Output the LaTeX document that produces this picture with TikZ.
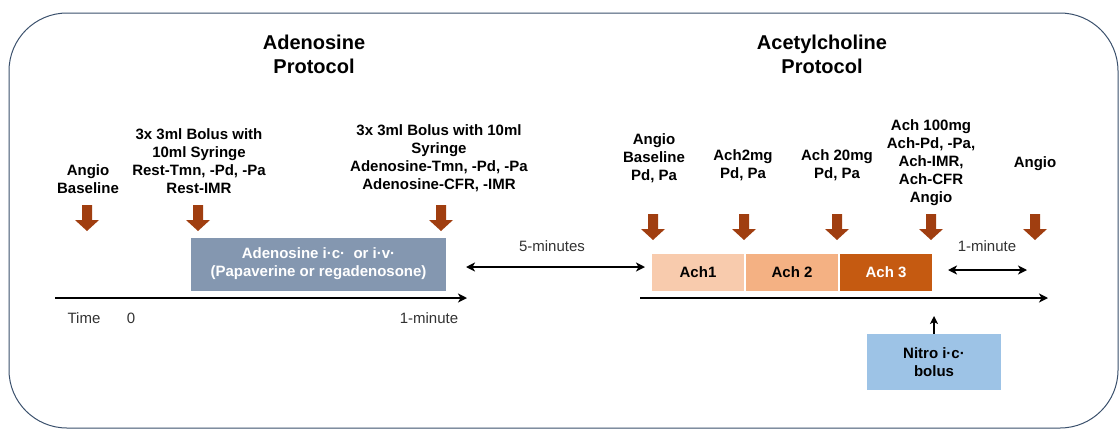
\documentclass[tikz,border=0pt]{standalone}
\usepackage{fontspec}
\setmainfont{Liberation Sans}
\usetikzlibrary{arrows.meta,positioning,calc}
\definecolor{slate}{RGB}{58,80,108}
\definecolor{rust}{RGB}{160,62,16}
\definecolor{steel}{RGB}{132,151,176}
\definecolor{peach}{RGB}{248,203,173}
\definecolor{apricot}{RGB}{244,177,131}
\definecolor{burnt}{RGB}{197,90,17}
\definecolor{sky}{RGB}{157,195,230}
\definecolor{ink}{RGB}{50,50,50}
\newcommand{\lblfont}{\fontsize{15}{18}\selectfont}
\newcommand{\ttlfont}{\fontsize{20}{24}\selectfont}
\tikzset{
  >={Stealth[length=9pt,width=9pt,inset=2.5pt]},
  frame/.style={draw=slate,line width=1pt,rounded corners=58pt},
  title/.style={font=\ttlfont\bfseries,align=center,inner sep=0pt},
  lab/.style={font=\lblfont\bfseries,align=center,inner sep=0pt},
  plain/.style={font=\lblfont,text=ink,inner sep=0pt},
  timeline/.style={->,line width=2.6pt},
  span/.style={<->,line width=2.2pt},
  phase/.style={fill=#1,draw=white,line width=1pt,minimum width=93pt,
    minimum height=38pt,inner sep=0pt,font=\lblfont\bfseries},
  drug/.style={fill=#1,inner sep=0pt,align=center,font=\lblfont\bfseries},
  % brown block arrow
  pics/drop/.style={code={
    \fill[rust] (-5,0) -- (5,0) -- (5,15) -- (12,15) -- (0,26) -- (-12,15) -- (-5,15) -- cycle;
  }},
}

\begin{document}
\begin{tikzpicture}[x=1pt,y=-1pt]
  \useasboundingbox (0,0) rectangle (1119,429);
  \draw[frame] (9,13) rectangle (1118,428);

  % titles
  \node[title] (adoT) at (314,54) {Adenosine\\Protocol};
  \node[title] (achT) at (822,54) {Acetylcholine\\Protocol};

  % adenosine side
  \node[lab] (base) at (88,179) {Angio\\Baseline};
  \node[lab] (rest) at (199,161) {3x 3ml Bolus with\\10ml Syringe\\Rest-Tmn, -Pd, -Pa\\Rest-IMR};
  \node[lab] (hyp) at (439,158) {3x 3ml Bolus with 10ml\\Syringe\\Adenosine-Tmn, -Pd, -Pa\\Adenosine-CFR, -IMR};
  \foreach \x in {87,198,441} \pic at (\x,205) {drop};

  \node[drug=steel,text=white,minimum width=255pt,minimum height=53pt] (ado) at (318.5,264)
    {Adenosine i·c·\ \ or i·v·\\(Papaverine or regadenosone)};

  \coordinate (t0) at (55,298);
  \coordinate (t1) at (467,298);
  \draw[timeline] (t0) -- (t1);
  \node[plain] (time) at (84,318) {Time};
  \node[plain] (zero) at (131,318) {0};
  \node[plain] (oneA) at (429,318) {1-minute};

  % gap
  \coordinate (gapL) at (466,267);
  \coordinate (gapR) at (645,267);
  \draw[span] (gapL) -- (gapR);
  \node[plain] (five) at (552,246) {5-minutes};

  % acetylcholine side
  \node[lab] (abase) at (654,158) {Angio\\Baseline\\Pd, Pa};
  \node[lab] (a2) at (743,165) {Ach2mg\\Pd, Pa};
  \node[lab] (a20) at (837,165) {Ach 20mg\\Pd, Pa};
  \node[lab] (a100) at (931,163) {Ach 100mg\\Ach-Pd, -Pa,\\Ach-IMR,\\Ach-CFR\\Angio};
  \node[lab] (aend) at (1035,164) {Angio};
  \foreach \x in {653,744,837,931,1035} \pic at (\x,214) {drop};

  \node[phase=peach] (ach1) at (698,272) {Ach1};
  \node[phase=apricot,right=0pt of ach1] (ach2) {Ach 2};
  \node[phase=burnt,text=white,right=0pt of ach2] (ach3) {Ach 3};

  \coordinate (m0) at (948,270);
  \coordinate (m1) at (1027,270);
  \draw[span] (m0) -- (m1);
  \node[plain] (oneB) at (987,246) {1-minute};

  \coordinate (t2) at (640,298);
  \coordinate (t3) at (1048,298);
  \draw[timeline] (t2) -- (t3);

  \node[drug=sky,minimum width=134pt,minimum height=56pt] (nitro) at (934,362) {Nitro i·c·\\bolus};
  \coordinate (nitroTip) at (934,316);
  \draw[->,line width=2.2pt,>={Stealth[length=8pt,width=8pt,inset=2pt]}] (nitro.north) -- (nitroTip);
\end{tikzpicture}
\end{document}
